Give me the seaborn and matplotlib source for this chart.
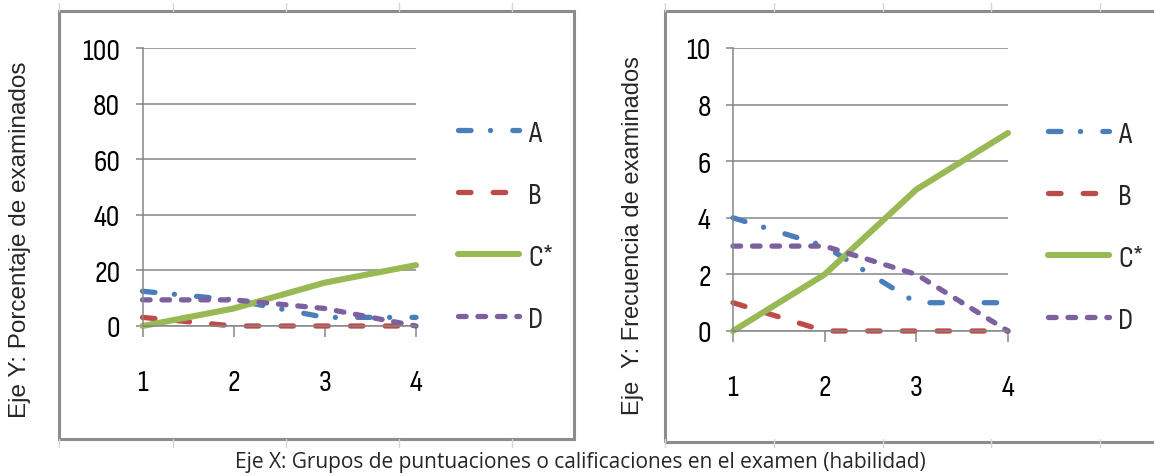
import pandas as pd
import matplotlib
matplotlib.use("Agg")
import matplotlib.pyplot as plt
import seaborn as sns
from matplotlib.patches import Rectangle
from matplotlib.lines import Line2D
from matplotlib import font_manager

# Data: score groups and response options
grupos = [1, 2, 3, 4]
opciones = ["A", "B", "C*", "D"]
porcentaje = {
    "A": [12.5, 9.4, 3.1, 3.1],
    "B": [3.1, 0, 0, 0],
    "C*": [0, 6.3, 15.6, 21.9],
    "D": [9.4, 9.4, 6.3, 0],
}
frecuencia = {
    "A": [4, 3, 1, 1],
    "B": [1, 0, 0, 0],
    "C*": [0, 2, 5, 7],
    "D": [3, 3, 2, 0],
}
yticks_pct = [0, 20, 40, 60, 80, 100]
yticks_frec = [0, 2, 4, 6, 8, 10]

colores = {"A": "#4a7ebb", "B": "#be4b48", "C*": "#98b954", "D": "#7d60a0"}
# dash patterns in points (not scaled by width)
trazos = {"A": (9, 14, 0.1, 16), "B": (9, 16), "C*": "", "D": (5.5, 8.5)}

sns.set_style("white")
plt.rcParams["lines.scale_dashes"] = False
plt.rcParams["lines.dash_capstyle"] = "round"
plt.rcParams["lines.solid_capstyle"] = "round"
plt.rcParams["lines.dash_joinstyle"] = "round"
plt.rcParams["lines.solid_joinstyle"] = "round"

W, H = 1154, 477
fig = plt.figure(figsize=(W / 100, H / 100), dpi=100)

fp_num = font_manager.FontProperties(
    family=["Sofia Sans Condensed", "IBM Plex Sans Condensed", "DejaVu Sans"], size=22)
gris = "#868686"


def px_box(x0, y0, x1, y1):
    return [x0 / W, 1 - y1 / H, (x1 - x0) / W, (y1 - y0) / H]


def panel(datos, yticks, ax_box, leg_xy):
    df = pd.DataFrame(
        [(g, o, datos[o][i]) for o in opciones for i, g in enumerate(grupos)],
        columns=["grupo", "opcion", "valor"],
    )
    ax = fig.add_axes(px_box(*ax_box))
    sns.lineplot(
        data=df, x="grupo", y="valor", hue="opcion", style="opcion",
        hue_order=opciones, style_order=opciones,
        palette=colores, dashes=trazos, linewidth=3.8,
        estimator=None, legend=False, ax=ax,
    )
    for ln, o in zip(ax.get_lines(), opciones):
        ln.set_clip_on(False)
        if o == "C*":
            ln.set_linewidth(4.4)
    ax.set_xlim(1, 4)
    ax.set_ylim(yticks[0], yticks[-1])
    ax.set_xticks(grupos)
    ax.set_yticks(yticks)
    ax.grid(axis="y", color=gris, lw=1.1)
    ax.set_axisbelow(True)
    for s in ["top", "right"]:
        ax.spines[s].set_visible(False)
    for s in ["left", "bottom"]:
        ax.spines[s].set_color(gris)
        ax.spines[s].set_linewidth(1.1)
    ax.tick_params(axis="x", direction="out", length=8, width=1.1, color=gris,
                   pad=23, bottom=True)
    ax.tick_params(axis="y", direction="out", length=5, width=1.1, color=gris,
                   pad=11, left=True)
    for t in ax.get_xticklabels() + ax.get_yticklabels():
        t.set_fontproperties(fp_num)
        t.set_color("black")
    ax.set_xlabel("")
    ax.set_ylabel("")
    handles = []
    for o in opciones:
        h = Line2D([], [], color=colores[o], lw=4.4 if o == "C*" else 3.8,
                   solid_capstyle="round", dash_capstyle="round")
        if trazos[o]:
            h.set_dashes(trazos[o])
        handles.append(h)
    ax.legend(handles, opciones, loc="center left", bbox_to_anchor=leg_xy,
              bbox_transform=fig.transFigure, frameon=False, borderpad=0,
              borderaxespad=0, handlelength=2.0, handletextpad=0.3,
              labelspacing=1.13, prop=fp_num)
    return ax


panel(porcentaje, yticks_pct, (142.5, 49, 416, 327), (458 / W, 1 - 227 / H))
panel(frecuencia, yticks_frec, (733, 49, 1008, 332), (1048 / W, 1 - 228 / H))

# outer frames like the pasted chart objects
fig.patches.append(Rectangle((59 / W, 1 - 440 / H), (574 - 59) / W, 428 / H,
                             transform=fig.transFigure, fill=False,
                             ec="#8c8c8c", lw=2.2))
fig.patches.append(Rectangle((665 / W, 1 - 443 / H), (1170 - 665) / W, 431 / H,
                             transform=fig.transFigure, fill=False,
                             ec="#8c8c8c", lw=2.2))
for xs in ([59, 173, 286, 399, 512], [665, 774, 883, 991, 1100]):
    for x in xs:
        for y0, y1 in ((4, 12), (440, 448)):
            fig.add_artist(Line2D([x / W, x / W], [1 - y0 / H, 1 - y1 / H],
                                  transform=fig.transFigure, color="#d6d6d6", lw=1))

fig.text(20 / W, 1 - 240 / H, "Eje Y: Porcentaje de examinados", rotation=90,
         ha="center", va="center", fontsize=17.5, family="Liberation Sans")
fig.text(633 / W, 1 - 236 / H, "Eje  Y: Frecuencia de examinados", rotation=90,
         ha="center", va="center", fontsize=17, family="Liberation Sans")
fig.text(580 / W, 1 - 463 / H,
         "Eje X: Grupos de puntuaciones o calificaciones en el examen (habilidad)",
         ha="center", va="center", fontsize=15, family="Open Sans")

fig.savefig("out.png", dpi=100)
